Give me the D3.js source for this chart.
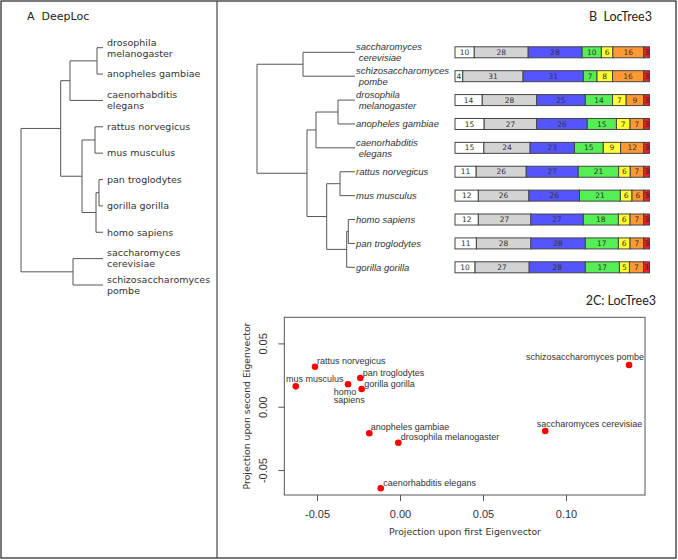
<!DOCTYPE html>
<html><head><meta charset="utf-8">
<script src="https://cdn.jsdelivr.net/npm/d3@7"></script>
<style>body{margin:0;background:#fff}svg{display:block}</style>
</head><body>
<svg id="c" width="678" height="560"></svg>
<script>
// ---------------- DATA ----------------
// Panel A: DeepLoc tree (branch lengths, arbitrary units)
const treeA = {children:[
  {len:39.7, children:[
    {len:9.3, children:[
      {len:27, children:[{name:"drosophila\nmelanogaster",len:6},{name:"anopheles gambiae",len:6}]},
      {name:"caenorhabditis\nelegans",len:33}]},
    {len:21.3, children:[
      {len:13, children:[{name:"rattus norvegicus",len:8},{name:"mus musculus",len:8}]},
      {len:14, children:[
        {len:3, children:[{name:"pan troglodytes",len:4},{name:"gorilla gorilla",len:4}]},
        {name:"homo sapiens",len:7}]}]}]},
  {len:52, children:[{name:"saccharomyces\ncerevisiae",len:30},{name:"schizosaccharomyces\npombe",len:30}]}
]};
// Panel B: LocTree3 tree
const treeB = {children:[
  {len:46, children:[{name:"saccharomyces\n cerevisiae",len:52},{name:"schizosaccharomyces\n pombe",len:52}]},
  {len:50, children:[
    {len:9, children:[
      {len:22, children:[{name:"drosophila\n melanogaster",len:17},{name:"anopheles gambiae",len:17}]},
      {name:"caenorhabditis\n elegans",len:39}]},
    {len:19.7, children:[
      {len:13.3, children:[{name:"rattus norvegicus",len:15},{name:"mus musculus",len:15}]},
      {len:20, children:[
        {len:1.6, children:[{name:"homo sapiens",len:6.7},{name:"pan troglodytes",len:6.7}]},
        {name:"gorilla gorilla",len:8.3}]}]}]}
]};
// Panel B bars (percentages per localisation class), in tree-B leaf order
const barRows = [
  [10,28,28,10,6,16,3],
  [4,31,31,7,8,16,3],
  [14,28,25,14,7,9,3],
  [15,27,26,15,7,7,3],
  [15,24,23,15,9,12,3],
  [11,26,27,21,6,7,3],
  [12,26,26,21,6,6,3],
  [12,27,27,18,6,7,3],
  [11,28,28,17,6,7,3],
  [10,27,28,17,5,7,3]
];
const barColors = ["#ffffff","#d3d3d3","#5555ff","#55ee55","#ffff33","#ff9933","#ee2222"];
// Panel C scatter
const species = ["rattus norvegicus","mus musculus","homo\nsapiens","pan troglodytes","gorilla gorilla",
  "anopheles gambiae","drosophila melanogaster","caenorhabditis elegans","saccharomyces cerevisiae","schizosaccharomyces pombe"];
const eig1 = [-0.0512,-0.0628,-0.0313,-0.0239,-0.0231,-0.0185,-0.0010,-0.0116,0.0875,0.1380];
const eig2 = [0.0316,0.0161,0.0177,0.0227,0.0140,-0.0210,-0.0284,-0.0644,-0.0192,0.0329];
const xTicks = [-0.05,0,0.05,0.10];
const yTicks = [-0.05,0,0.05];

// ---------------- LAYOUT / STYLE ----------------
const labelPlace = [ // dx, dy, anchor
  [2,-6,"start"],[-9.7,-7,"start"],[-14.3,7.4,"start"],[2.4,-5.3,"start"],[2.6,-5,"start"],
  [1.4,-6.6,"start"],[2.4,-5.4,"start"],[2.6,-5.6,"start"],[-8.6,-7,"start"],[15,-8.3,"end"]
];
const svg = d3.select("#c");
const ink = "#333";

svg.append("rect").attr("x",1).attr("y",1).attr("width",675).attr("height",557)
  .attr("fill","none").attr("stroke","#333").attr("stroke-width",1.3);
svg.append("line").attr("x1",217).attr("x2",217).attr("y1",1).attr("y2",558)
  .attr("stroke","#444").attr("stroke-width",1.2);

function drawTree(data, x0, x1, y0, y1, cls, labelStyle){
  const root = d3.hierarchy(data);
  root.each(n=>{ n.dist = (n.parent? n.parent.dist:0) + (n.data.len||0); });
  const maxD = d3.max(root.leaves(), d=>d.dist);
  const xs = d3.scaleLinear().domain([0,maxD]).range([x0,x1]);
  const leaves = root.leaves();
  const ys = d3.scalePoint().domain(leaves.map((d,i)=>i)).range([y0,y1]);
  leaves.forEach((l,i)=>l.yy = ys(i));
  root.eachAfter(n=>{ if(n.children){ n.yy = d3.mean([n.children[0].yy, n.children[n.children.length-1].yy]); }});
  const g = svg.append("g").attr("class",cls);
  root.descendants().forEach(n=>{
    if(n.parent){
      g.append("line").attr("x1",xs(n.parent.dist)).attr("x2",xs(n.dist)).attr("y1",n.yy).attr("y2",n.yy)
        .attr("stroke","#555").attr("stroke-width",1);
    }
    if(n.children){
      g.append("line").attr("x1",xs(n.dist)).attr("x2",xs(n.dist))
        .attr("y1",n.children[0].yy).attr("y2",n.children[n.children.length-1].yy)
        .attr("stroke","#555").attr("stroke-width",1);
    }
  });
  leaves.forEach(l=>{
    const lines = l.data.name.split("\n");
    const t = g.append("text").attr("x",x1+labelStyle.gap).attr("y",l.yy)
      .attr("font-family",labelStyle.family).attr("font-size",labelStyle.size)
      .attr("font-style",labelStyle.italic?"italic":"normal").attr("fill",ink)
      .style("white-space","pre");
    const lh = labelStyle.lh;
    lines.forEach((s,i)=>{
      t.append("tspan").attr("x",x1+labelStyle.gap)
        .attr("y", l.yy - (lines.length-1)*lh/2 + i*lh).attr("dy","0.35em").text(s);
    });
  });
  return leaves.map(l=>l.yy);
}

drawTree(treeA, 21, 103, 47.7, 285, "treeA", {gap:4, family:"DejaVu Sans", size:9.5, italic:false, lh:11});
const rowY = drawTree(treeB, 257, 355, 52.3, 267.3, "treeB", {gap:1, family:"Liberation Sans, Arial, sans-serif", size:9.5, italic:true, lh:11});

// titles
svg.append("text").attr("x",27).attr("y",20).attr("font-family","DejaVu Sans").attr("font-size",11)
  .attr("fill","#222").style("white-space","pre").text("A  DeepLoc");
svg.append("text").attr("x",589).attr("y",21).attr("font-family","Lato").attr("font-size",12.5)
  .attr("fill","#222").style("white-space","pre").text("B  LocTree3");
svg.append("text").attr("x",656).attr("y",305).attr("text-anchor","end").attr("font-family","Lato").attr("font-size",12.5)
  .attr("fill","#222").text("2C: LocTree3");

// bars
const barH = 11;
const bars = svg.append("g").attr("class","bars");
barRows.forEach((row,ri)=>{
  const total = d3.sum(row);
  const bx = d3.scaleLinear().domain([0,total]).range([455,649.5]);
  let acc = 0;
  const y = rowY[ri];
  row.forEach((v,j)=>{
    const a = acc; acc += v;
    bars.append("rect").attr("x",bx(a)).attr("y",y-barH/2).attr("width",bx(acc)-bx(a)).attr("height",barH)
      .attr("fill",barColors[j]).attr("stroke","#444").attr("stroke-width",1);
    bars.append("text").attr("x",(bx(a)+bx(acc))/2).attr("y",y).attr("dy","0.35em")
      .attr("text-anchor","middle").attr("font-family","DejaVu Sans").attr("font-size",7.5)
      .attr("fill",j===6?"#222":"#333").text(v);
  });
});

// scatter
const sx = d3.scaleLinear().domain([-0.0697,0.1476]).range([284.3,645]);
const sy = d3.scaleLinear().domain([-0.0697,0.0706]).range([495,317.3]);
const sc = svg.append("g").attr("class","scatter");
sc.append("rect").attr("x",sx.range()[0]).attr("y",sy.range()[1])
  .attr("width",sx.range()[1]-sx.range()[0]).attr("height",sy.range()[0]-sy.range()[1])
  .attr("fill","none").attr("stroke","#555").attr("stroke-width",1);
const fmt = d=> d===0? "0.00" : d3.format(".2f")(d).replace("−","-");
const xa = sc.append("g").attr("transform","translate(0,495)")
  .call(d3.axisBottom(sx).tickValues(xTicks).tickSize(6).tickPadding(9).tickFormat(fmt));
const ya = sc.append("g").attr("transform","translate(284.3,0)")
  .call(d3.axisLeft(sy).tickValues(yTicks).tickSize(6).tickPadding(0).tickFormat(fmt));
[xa,ya].forEach(a=>{
  a.select(".domain").remove();
  a.selectAll(".tick line").attr("stroke","#555");
  a.selectAll(".tick text").attr("font-family","Liberation Sans, Arial, sans-serif").attr("font-size",11).attr("fill","#333");
});
ya.selectAll(".tick text").attr("text-anchor","middle").attr("x",0).attr("dy",0)
  .attr("transform","translate(-20,0) rotate(-90)").attr("dominant-baseline","middle");
sc.append("text").attr("x",465).attr("y",535).attr("text-anchor","middle").attr("font-family","DejaVu Sans")
  .attr("font-size",9.3).attr("fill","#333").text("Projection upon first Eigenvector");
sc.append("text").attr("transform","translate(249.5,406) rotate(-90)").attr("text-anchor","middle")
  .attr("font-family","DejaVu Sans").attr("font-size",9.3).attr("fill","#333").text("Projection upon second Eigenvector");

species.forEach((s,i)=>{
  const px = sx(eig1[i]), py = sy(eig2[i]);
  sc.append("circle").attr("cx",px).attr("cy",py).attr("r",3.3).attr("fill","#ff0000");
  const [dx,dy,anc] = labelPlace[i];
  const lines = s.split("\n");
  const t = sc.append("text").attr("font-family","Liberation Sans, Arial, sans-serif").attr("font-size",9)
    .attr("fill","#333").attr("text-anchor",anc);
  lines.forEach((ln,k)=>{
    t.append("tspan").attr("x",px+dx).attr("y",py+dy+k*8.6).attr("dy","0.35em").text(ln);
  });
});
</script>
</body></html>
